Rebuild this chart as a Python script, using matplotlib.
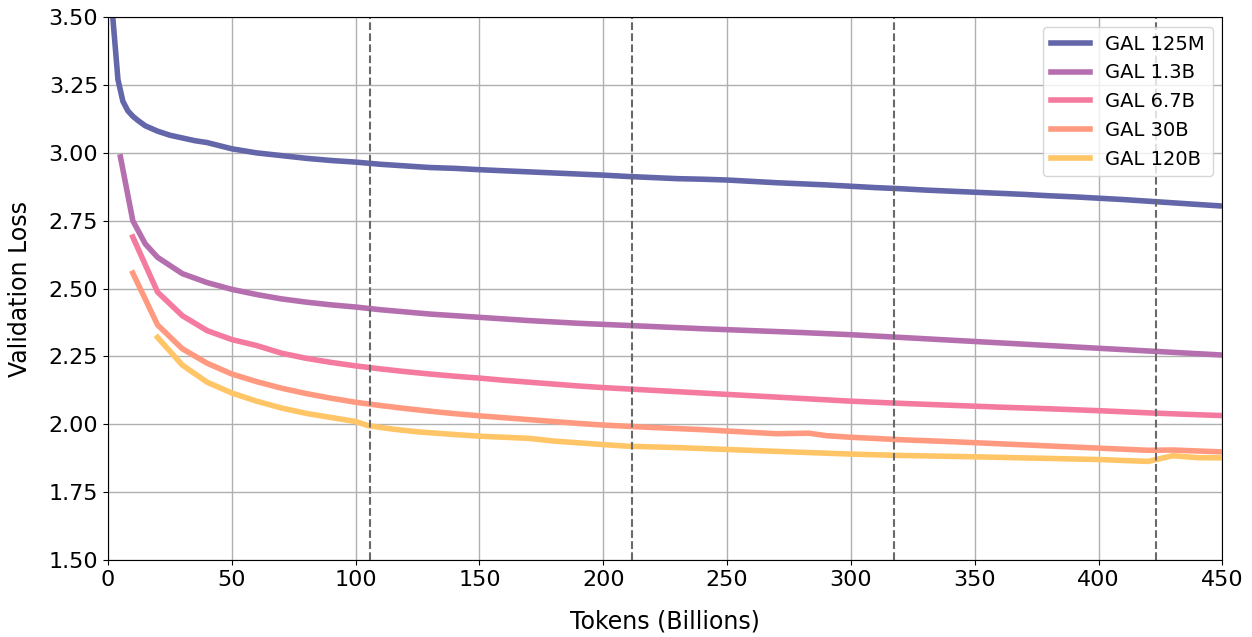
import matplotlib
matplotlib.use('Agg')
import matplotlib.pyplot as plt

# GAL 125M
x_125m = [2, 4, 6, 8, 10, 12, 15, 20, 25, 30, 35, 40, 50, 60, 70, 80, 90, 100,
          110, 120, 130, 140, 150, 160, 170, 180, 190, 200, 210, 220, 230, 240,
          250, 260, 270, 280, 290, 300, 310, 320, 330, 340, 350, 360, 370, 380,
          390, 400, 410, 420, 430, 440, 450]
y_125m = [3.49, 3.27, 3.19, 3.155, 3.135, 3.12, 3.10, 3.08, 3.065, 3.055, 3.045,
          3.038, 3.015, 3.00, 2.99, 2.98, 2.972, 2.966, 2.958, 2.952, 2.946,
          2.943, 2.938, 2.934, 2.930, 2.926, 2.922, 2.918, 2.913, 2.909, 2.905,
          2.903, 2.900, 2.895, 2.890, 2.886, 2.882, 2.877, 2.872, 2.868, 2.863,
          2.859, 2.855, 2.851, 2.847, 2.842, 2.838, 2.833, 2.828, 2.822, 2.816,
          2.810, 2.804]

# GAL 1.3B
x_1_3b = [5, 10, 15, 20, 30, 40, 50, 60, 70, 80, 90, 100, 110, 120, 130, 140,
          150, 160, 170, 180, 190, 200, 220, 240, 260, 280, 300, 320, 340, 360,
          380, 400, 420, 440, 450]
y_1_3b = [2.985, 2.75, 2.665, 2.615, 2.555, 2.522, 2.497, 2.478, 2.462, 2.450,
          2.440, 2.432, 2.422, 2.414, 2.406, 2.400, 2.394, 2.388, 2.382, 2.377,
          2.372, 2.368, 2.360, 2.352, 2.345, 2.338, 2.330, 2.320, 2.310, 2.300,
          2.290, 2.280, 2.270, 2.260, 2.255]

# GAL 6.7B
x_6_7b = [10, 20, 30, 40, 50, 60, 70, 80, 90, 100, 110, 120, 130, 140, 150,
          160, 170, 180, 190, 200, 220, 240, 260, 280, 300, 320, 340, 360, 380,
          400, 420, 440, 450]
y_6_7b = [2.69, 2.487, 2.40, 2.345, 2.312, 2.290, 2.262, 2.243, 2.228, 2.215,
          2.204, 2.194, 2.185, 2.177, 2.170, 2.162, 2.155, 2.148, 2.141, 2.135,
          2.125, 2.115, 2.105, 2.095, 2.085, 2.077, 2.070, 2.063, 2.057, 2.050,
          2.042, 2.035, 2.032]

# GAL 30B
x_30b = [10, 20, 30, 40, 50, 60, 70, 80, 90, 100, 110, 120, 130, 140, 150, 160,
         170, 180, 190, 200, 220, 240, 260, 270, 283, 290, 300, 320, 340, 360,
         380, 400, 420, 430, 450]
y_30b = [2.557, 2.366, 2.278, 2.225, 2.185, 2.157, 2.133, 2.113, 2.096, 2.081,
         2.069, 2.058, 2.048, 2.039, 2.031, 2.024, 2.017, 2.010, 2.003, 1.997,
         1.988, 1.980, 1.970, 1.965, 1.967, 1.958, 1.952, 1.943, 1.936, 1.928,
         1.920, 1.912, 1.904, 1.905, 1.898]

# GAL 120B
x_120b = [20, 30, 40, 50, 60, 70, 80, 90, 100, 105, 115, 125, 140, 150, 170,
          180, 200, 210, 230, 250, 270, 300, 320, 350, 380, 400, 420, 430, 440,
          450]
y_120b = [2.32, 2.218, 2.155, 2.115, 2.085, 2.060, 2.040, 2.025, 2.010, 1.995,
          1.982, 1.972, 1.962, 1.956, 1.948, 1.938, 1.925, 1.919, 1.914, 1.907,
          1.900, 1.890, 1.885, 1.880, 1.874, 1.870, 1.863, 1.884, 1.877, 1.876]

series = [
    ('GAL 125M', x_125m, y_125m, '#6466aa'),
    ('GAL 1.3B', x_1_3b, y_1_3b, '#b56fae'),
    ('GAL 6.7B', x_6_7b, y_6_7b, '#f47a9f'),
    ('GAL 30B', x_30b, y_30b, '#ff9a80'),
    ('GAL 120B', x_120b, y_120b, '#ffc566'),
]

# epoch boundaries
epochs = [105.8, 211.7, 317.5, 423.3]

fig = plt.figure(figsize=(12.52, 6.37), dpi=100)
ax = fig.add_axes([0.0863, 0.121, 0.890, 0.852])

for name, xs, ys, c in series:
    ax.plot(xs, ys, color=c, linewidth=4, label=name)

for e in epochs:
    ax.axvline(e, color='dimgray', linestyle='--', linewidth=1.5)

ax.set_xlim(0, 450)
ax.set_ylim(1.5, 3.5)
ax.set_xticks(range(0, 451, 50))
ax.set_yticks([1.5, 1.75, 2.0, 2.25, 2.5, 2.75, 3.0, 3.25, 3.5])
ax.tick_params(labelsize=16)
ax.set_xlabel('Tokens (Billions)', fontsize=17, labelpad=14)
ax.set_ylabel('Validation Loss', fontsize=17, labelpad=12)
ax.grid(True, color='#b0b0b0', linewidth=1)
ax.set_axisbelow(True)
ax.legend(loc='upper right', fontsize=14)

fig.savefig('out.png', dpi=100)
